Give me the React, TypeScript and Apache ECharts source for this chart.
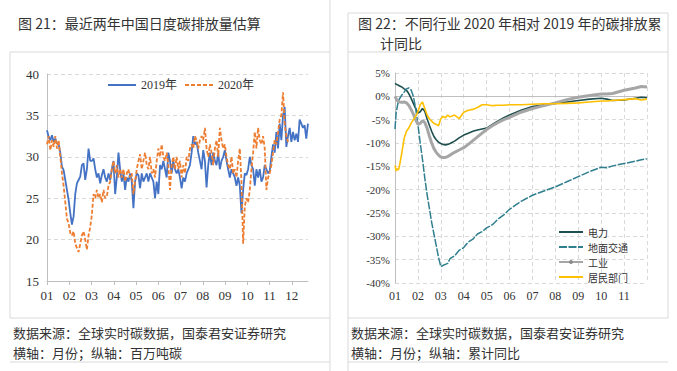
import React, { useEffect, useRef } from "react";
import * as echarts from "echarts";

// ---------- Left chart: daily emissions (million tonnes C), sampled every LEFT_STEP months ----------
const LEFT_STEP = 0.0747;
const leftSeriesNames = ["2019年", "2020年"];
const emission2019 = [
  33.2, 32.4, 32.0, 32.6, 31.8, 32.2, 31.6, 31.5, 30.5, 28.8,
  28.4, 27.2, 26.0, 24.8, 23.2, 21.8, 22.8, 25.5, 26.8, 27.2,
  27.6, 29.0, 29.2, 27.2, 28.5, 31.0, 29.5, 29.5, 29.8, 28.5,
  27.5, 28.0, 26.8, 27.8, 28.5, 27.5, 27.0, 28.0, 27.2, 28.5,
  29.5, 25.5, 27.5, 30.5, 28.5, 27.0, 28.0, 26.0, 27.5, 27.0,
  28.0, 27.0, 23.8, 27.0, 28.0, 27.8, 26.2, 28.0, 27.0, 27.5,
  28.0, 27.0, 28.0, 27.5, 27.0, 25.0, 27.0, 25.5, 29.0, 28.5,
  29.5, 28.5, 27.5, 30.5, 29.5, 28.0, 29.5, 28.5, 28.0, 28.5,
  27.5, 26.2, 27.5, 27.0, 28.0, 28.5, 29.0, 30.5, 32.5, 31.5,
  31.8, 30.5, 29.5, 28.5, 30.8, 29.5, 26.3, 29.0, 30.5, 29.0,
  30.5, 29.5, 29.0, 30.5, 28.5, 29.5, 30.0, 30.8, 29.5, 28.5,
  27.5, 28.5, 28.0, 27.5, 26.5, 27.5, 26.5, 23.2, 26.0, 28.0,
  27.8, 28.5, 30.0, 29.0, 28.5, 26.5, 28.5, 27.5, 28.5, 27.0,
  27.5, 29.0, 28.5, 28.0, 28.3, 30.0, 31.5, 30.5, 33.0, 31.0,
  34.0, 32.0, 35.0, 36.0, 31.2, 32.5, 33.5, 31.8, 33.0, 32.0,
  32.8, 31.8, 34.5, 34.0, 33.5, 33.8, 32.2, 34.0,
];
const emission2020 = [
  31.5, 32.5, 30.8, 32.0, 31.2, 32.5, 31.0, 32.0, 30.0, 28.0,
  26.5, 24.5, 22.5, 22.0, 20.8, 20.5, 21.0, 19.5, 19.0, 18.5,
  19.5, 20.5, 21.0, 20.0, 18.8, 20.5, 21.5, 23.0, 25.5, 25.0,
  26.0, 25.0, 25.5, 24.5, 26.0, 25.0, 25.2, 26.5, 27.0, 28.5,
  29.5, 28.0, 29.0, 27.5, 28.5, 27.5, 28.5, 27.0, 28.0, 28.5,
  27.5, 28.0, 25.5, 27.0, 28.5, 29.5, 30.3, 28.5, 29.5, 30.5,
  29.0, 28.5, 30.0, 28.0, 28.5, 27.5, 29.5, 31.0, 30.0, 31.5,
  30.0, 29.5, 30.5, 29.0, 26.0, 29.0, 30.0, 28.5, 30.0, 28.5,
  29.5, 27.5, 29.0, 28.0, 30.0, 29.5, 31.0, 31.5, 31.0, 32.5,
  32.0, 31.0, 32.0, 32.5, 32.0, 33.5, 31.0, 30.0, 31.5, 30.5,
  29.0, 31.0, 32.0, 30.0, 33.5, 32.0, 31.0, 31.5, 30.0, 29.0,
  28.5, 30.0, 28.0, 28.5, 27.5, 29.5, 31.0, 27.0, 19.5, 24.0,
  25.0, 24.5, 26.0, 28.5, 30.5, 33.0, 31.0, 33.5, 32.0, 31.5,
  32.5, 31.0, 26.0, 27.5, 28.0, 29.0, 30.5, 32.0, 31.5, 33.0,
  34.5, 35.0, 37.8, 34.0, 32.5, 31.8,
];

// ---------- Right chart: cumulative YoY change (%) by sector ----------
const rightSeriesNames = ["电力", "地面交通", "工业", "居民部门"];
const rightX = [
  0, 0.05, 0.1, 0.15, 0.2, 0.3, 0.4, 0.5, 0.6, 0.7, 0.8, 0.9, 1.0, 1.1, 1.2, 1.3, 1.4, 1.5,
  1.6, 1.7, 1.8, 1.9, 2.0, 2.1, 2.2, 2.3, 2.4, 2.6, 2.8, 3.0, 3.2, 3.4, 3.6, 3.8, 4.0,
  4.25, 4.5, 4.75, 5.0, 5.5, 6.0, 6.5, 7.0, 7.5, 8.0, 8.5, 9.0, 9.25, 9.5, 10.0, 10.5, 10.75, 11.0,
];
const power = [
  2.8, 2.6, 2.5, 2.4, 2.2, 2.0, 1.6, 1.3, 0.6, -0.4, -1.5, -2.6, -3.6, -3.3, -2.6, -3.2, -4.8, -6.2,
  -7.5, -8.6, -9.3, -9.8, -10.1, -10.3, -10.4, -10.3, -10.1, -9.6, -8.9, -8.3, -7.9, -7.5, -7.2, -7.0, -6.8,
  -6.0, -5.3, -4.6, -4.0, -3.0, -2.2, -1.8, -1.5, -1.2, -0.9, -0.6, -0.4, -0.6, -0.9, -0.8, -0.4, -0.2, -0.3,
];
const transport = [
  -7.0, -3.5, -2.2, -1.0, -0.5, 0.3, 0.9, 1.6, 1.8, 1.4, 0.0, -2.5, -6.0, -10.0, -13.5, -17.5, -21.0, -24.0,
  -27.0, -29.5, -32.0, -34.5, -36.5, -36.2, -36.0, -35.8, -34.8, -34.2, -33.0, -32.4, -31.2, -30.6, -29.5, -29.0, -28.2,
  -27.5, -26.3, -25.4, -24.2, -22.5, -21.2, -20.3, -19.4, -18.3, -17.2, -16.1, -15.2, -15.3, -14.9, -14.4, -13.9, -13.6, -13.4,
];
const industry = [
  0.0, -0.5, -0.9, -1.1, -1.2, -1.3, -1.2, -1.4, -1.9, -2.8, -3.8, -5.0, -6.0, -5.8, -5.2, -5.6, -6.8, -8.5,
  -10.0, -11.2, -12.0, -12.6, -13.0, -13.1, -13.1, -12.9, -12.6, -12.0, -11.5, -11.0, -10.3, -9.5, -8.7, -7.9, -7.1,
  -6.3, -5.6, -5.0, -4.5, -3.4, -2.6, -2.0, -1.4, -0.7, -0.2, 0.2, 0.5, 0.5, 0.6, 1.3, 1.8, 2.1, 2.0,
];
const residential = [
  -14.8, -16.0, -15.5, -15.8, -14.8, -12.0, -9.0, -7.5, -6.8, -5.8, -5.0, -4.3, -3.3, -1.8, -1.2, -2.6, -4.0, -4.8,
  -5.3, -5.8, -6.0, -6.3, -4.8, -4.3, -4.6, -4.0, -4.4, -4.0, -4.8, -3.4, -3.0, -2.8, -2.4, -1.8, -1.8,
  -2.0, -1.9, -1.9, -1.8, -1.8, -1.7, -1.6, -1.6, -1.5, -1.4, -1.2, -1.0, -1.0, -0.9, -0.7, -0.5, -0.8, -0.6,
];

const leftTitle = "图 21：最近两年中国日度碳排放量估算";
const rightTitle1 = "图 22：不同行业 2020 年相对 2019 年的碳排放累";
const rightTitle2 = "计同比";
const sourceNote = "数据来源：全球实时碳数据，国泰君安证券研究";
const leftAxisNote = "横轴：月份；纵轴：百万吨碳";
const rightAxisNote = "横轴：月份；纵轴：累计同比";

const SERIF = "'Liberation Serif', 'Times New Roman', 'Noto Sans CJK SC', serif";
const CJK = "'Noto Sans CJK SC', sans-serif";
const pad = (v: number) => String(Math.round(v) + 1).padStart(2, "0");

export default function App() {
  const ref = useRef<HTMLDivElement>(null);
  useEffect(() => {
    if (!ref.current) return;
    const chart = echarts.init(ref.current, undefined, { renderer: "svg" });
    const frame = "#d9d9d9";
    const ln = (x1: number, y1: number, x2: number, y2: number) => ({
      type: "line",
      shape: { x1, y1, x2, y2 },
      style: { stroke: frame, lineWidth: 1 },
      silent: true,
    });
    const txt = (x: number, y: number, text: string, size: number) => ({
      type: "text",
      x,
      y,
      style: { text, fontSize: size, fontFamily: CJK, fill: "#333", textVerticalAlign: "middle" },
      silent: true,
    });
    const noDot = { opacity: 0 };
    const option: any = {
      animation: false,
      backgroundColor: "#fff",
      graphic: [
        ln(10, 52, 330, 52),
        ln(348, 13, 668, 13),
        ln(348, 52, 668, 52),
        ln(10, 318, 330, 318),
        ln(348, 318, 668, 318),
        ln(10, 362, 330, 362),
        ln(348, 362, 668, 362),
        ln(10, 52, 10, 318),
        ln(330, 0, 330, 371),
        ln(348, 13, 348, 371),
        ln(668, 13, 668, 318),
        txt(18, 23, leftTitle, 14),
        txt(358, 23, rightTitle1, 14),
        txt(380, 43, rightTitle2, 14),
        txt(13, 332, sourceNote, 13),
        txt(13, 352, leftAxisNote, 13),
        txt(351, 332, sourceNote, 13),
        txt(351, 352, rightAxisNote, 13),
      ],
      legend: [
        {
          left: 102,
          top: 74,
          itemWidth: 28,
          itemHeight: 10,
          itemGap: 7,
          textStyle: { fontSize: 12, fontFamily: SERIF, color: "#333" },
          data: leftSeriesNames.map((n) => ({ name: n, itemStyle: noDot })),
        },
        {
          orient: "vertical",
          left: 553,
          top: 222,
          itemWidth: 24,
          itemHeight: 5,
          itemGap: 5,
          textStyle: { fontSize: 10, lineHeight: 10, fontFamily: CJK, color: "#333" },
          data: rightSeriesNames.map((n) =>
            n === "工业"
              ? { name: n, lineStyle: { width: 2 }, itemStyle: { color: "#8c8c8c" } }
              : { name: n, itemStyle: noDot }
          ),
        },
      ],
      grid: [
        { left: 47, top: 74, width: 261, height: 207 },
        { left: 395, top: 73, width: 252, height: 210 },
      ],
      xAxis: [
        {
          type: "value",
          gridIndex: 0,
          min: 0,
          max: 11.73,
          interval: 1,
          axisLine: { lineStyle: { color: "#bfbfbf" } },
          axisTick: { show: true, length: 4, lineStyle: { color: "#bfbfbf" } },
          axisLabel: { formatter: pad, fontSize: 13, fontFamily: SERIF, color: "#333", margin: 8, showMaxLabel: false },
          splitLine: { show: false },
        },
        {
          type: "value",
          gridIndex: 1,
          min: 0,
          max: 11,
          interval: 1,
          axisLine: { lineStyle: { color: "#bfbfbf" } },
          axisTick: { show: false },
          axisLabel: {
            formatter: (v: number) => (v >= 11 ? "" : pad(v)),
            fontSize: 12,
            fontFamily: SERIF,
            color: "#333",
            margin: 7,
          },
          splitLine: { show: true, lineStyle: { color: "#d9d9d9", type: [4, 3] } },
        },
      ],
      yAxis: [
        {
          type: "value",
          gridIndex: 0,
          min: 15,
          max: 40,
          interval: 5,
          axisLine: { show: true, lineStyle: { color: "#bfbfbf" } },
          axisTick: { show: false },
          axisLabel: { fontSize: 13, fontFamily: SERIF, color: "#333", margin: 8 },
          splitLine: { show: true, lineStyle: { color: "#d9d9d9", type: [4, 3] } },
        },
        {
          type: "value",
          gridIndex: 1,
          min: -40,
          max: 5,
          interval: 5,
          axisLine: { show: true, lineStyle: { color: "#bfbfbf" } },
          axisTick: { show: false },
          axisLabel: { formatter: "{value}%", fontSize: 11, fontFamily: SERIF, color: "#333", margin: 5 },
          splitLine: { show: true, lineStyle: { color: "#d9d9d9", type: [4, 3] } },
        },
      ],
      series: [
        {
          name: leftSeriesNames[0],
          type: "line",
          xAxisIndex: 0,
          yAxisIndex: 0,
          symbol: "none",
          color: "#4472c4",
          lineStyle: { width: 1.8, color: "#4472c4" },
          data: emission2019.map((v, i) => [i * LEFT_STEP, v]),
        },
        {
          name: leftSeriesNames[1],
          type: "line",
          xAxisIndex: 0,
          yAxisIndex: 0,
          symbol: "none",
          color: "#ed7d31",
          lineStyle: { width: 1.8, color: "#ed7d31", type: [4, 2] },
          data: emission2020.map((v, i) => [i * LEFT_STEP, v]),
        },
        {
          name: rightSeriesNames[0],
          type: "line",
          xAxisIndex: 1,
          yAxisIndex: 1,
          symbol: "none",
          color: "#1f4e4e",
          lineStyle: { width: 1.6, color: "#1f4e4e" },
          data: rightX.map((x, i) => [x, power[i]]),
        },
        {
          name: rightSeriesNames[1],
          type: "line",
          xAxisIndex: 1,
          yAxisIndex: 1,
          symbol: "none",
          color: "#2f7f8f",
          lineStyle: { width: 1.5, color: "#2f7f8f", type: [8, 1.5] },
          data: rightX.map((x, i) => [x, transport[i]]),
        },
        {
          name: rightSeriesNames[2],
          type: "line",
          xAxisIndex: 1,
          yAxisIndex: 1,
          symbol: "circle",
          symbolSize: 3,
          showSymbol: false,
          color: "#a6a6a6",
          lineStyle: { width: 3, color: "#a6a6a6" },
          data: rightX.map((x, i) => [x, industry[i]]),
        },
        {
          name: rightSeriesNames[3],
          type: "line",
          xAxisIndex: 1,
          yAxisIndex: 1,
          symbol: "none",
          color: "#ffc000",
          lineStyle: { width: 1.6, color: "#ffc000" },
          data: rightX.map((x, i) => [x, residential[i]]),
        },
      ],
    };
    chart.setOption(option);
    return () => chart.dispose();
  }, []);
  return (
    <div
      ref={ref}
      style={{ position: "fixed", left: 0, top: 0, width: 677, height: 371, background: "#fff" }}
    />
  );
}
